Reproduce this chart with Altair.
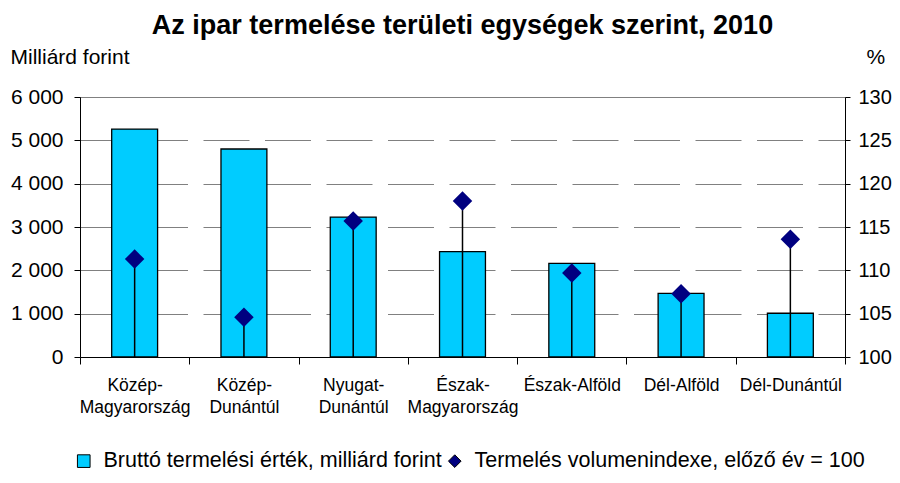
import altair as alt
import pandas as pd

# ---- data ----
regions = ["Közép-|Magyarország", "Közép-|Dunántúl", "Nyugat-|Dunántúl",
           "Észak-|Magyarország", "Észak-Alföld", "Dél-Alföld", "Dél-Dunántúl"]
gross_output = [5260, 4800, 3230, 2430, 2160, 1470, 1010]          # milliárd forint
volume_index = [111.3, 104.6, 115.7, 118.0, 109.7, 107.3, 113.6]   # előző év = 100
series_names = ["Bruttó termelési érték, milliárd forint",
                "Termelés volumenindexe, előző év = 100"]
left_ticks = [0, 1000, 2000, 3000, 4000, 5000, 6000]
right_ticks = [100, 105, 110, 115, 120, 125, 130]
title_text = "Az ipar termelése területi egységek szerint, 2010"

df = pd.DataFrame({
    "region": regions,
    "gross": gross_output,
    "index": volume_index,
    "base": [right_ticks[0]] * len(regions),
})

FONT = "Liberation Sans"

x_enc = alt.X(
    "region:N", sort=regions, title=None,
    scale=alt.Scale(paddingInner=0, paddingOuter=0),
    axis=alt.Axis(labelExpr="isValid(datum.value) ? split(datum.value, '|') : ''",
                  labelAngle=0, tickBand="extent", labelFontSize=17.5,
                  labelLineHeight=22, labelPadding=12, tickSize=7,
                  domainColor="black", tickColor="black", labelColor="black",
                  grid=False),
)

color_scale = alt.Scale(domain=series_names, range=["#00CCFF", "#000080"])
shape_scale = alt.Scale(domain=series_names, range=["square", "diamond"])

legend = alt.Legend(orient="none", legendX=-7, legendY=353,
                    direction="horizontal", title=None,
                    labelFontSize=21.5, labelColor="black", labelLimit=700,
                    symbolSize=160, symbolStrokeColor="black",
                    symbolStrokeWidth=1, columnPadding=2, labelOffset=9)

bars = alt.Chart(df).transform_calculate(series=f"'{series_names[0]}'").mark_bar(
    stroke="black", strokeWidth=1.3, width=alt.RelativeBandSize(0.42)
).encode(
    x=x_enc,
    y=alt.Y("gross:Q", scale=alt.Scale(domain=[0, 6000], nice=False),
            axis=alt.Axis(orient="left", values=left_ticks, grid=True,
                          gridDash=[46, 15.5], gridColor="#808080", gridWidth=1,
                          labelExpr="replace(format(datum.value, ','), ',', ' ')",
                          labelFontSize=21, labelColor="black", labelPadding=11,
                          tickSize=6, tickColor="black", domainColor="black",
                          title="Milliárd forint", titleAngle=0, titleAlign="left",
                          titleBaseline="middle", titleX=-70, titleY=-40,
                          titleFontSize=21, titleFontWeight="normal",
                          titleColor="black")),
    color=alt.Color("series:N", scale=color_scale, legend=legend),
)

rules = alt.Chart(df).mark_rule(color="black", strokeWidth=1.5).encode(
    x=x_enc,
    y=alt.Y("index:Q", scale=alt.Scale(domain=[100, 130], nice=False), axis=None),
    y2="base:Q",
)

points = alt.Chart(df).transform_calculate(series=f"'{series_names[1]}'").mark_point(
    filled=True, size=380, opacity=1
).encode(
    x=x_enc,
    y=alt.Y("index:Q", scale=alt.Scale(domain=[100, 130], nice=False),
            axis=alt.Axis(orient="right", values=right_ticks, grid=False,
                          labelFontSize=20, labelColor="black", labelPadding=8,
                          tickSize=5, tickColor="black", domainColor="black",
                          title="%", titleAngle=0, titleAlign="left",
                          titleBaseline="middle", titleX=21, titleY=-40,
                          titleFontSize=21, titleFontWeight="normal",
                          titleColor="black")),
    color=alt.Color("series:N", scale=color_scale, legend=legend),
    shape=alt.Shape("series:N", scale=shape_scale, legend=legend),
)

chart = alt.layer(bars, rules, points).resolve_scale(y="independent").properties(
    width=765, height=260,
    autosize=alt.AutoSizeParams(type="none"),
    padding={"left": 72, "top": 89, "right": 47, "bottom": 118},
    title=alt.TitleParams(title_text, fontSize=27, fontWeight="bold", font=FONT,
                          anchor="middle", color="black", offset=6),
).configure(font=FONT).configure_view(stroke="#808080", strokeWidth=1)

chart.save("out.html", embed_options={"renderer": "svg", "actions": False})
